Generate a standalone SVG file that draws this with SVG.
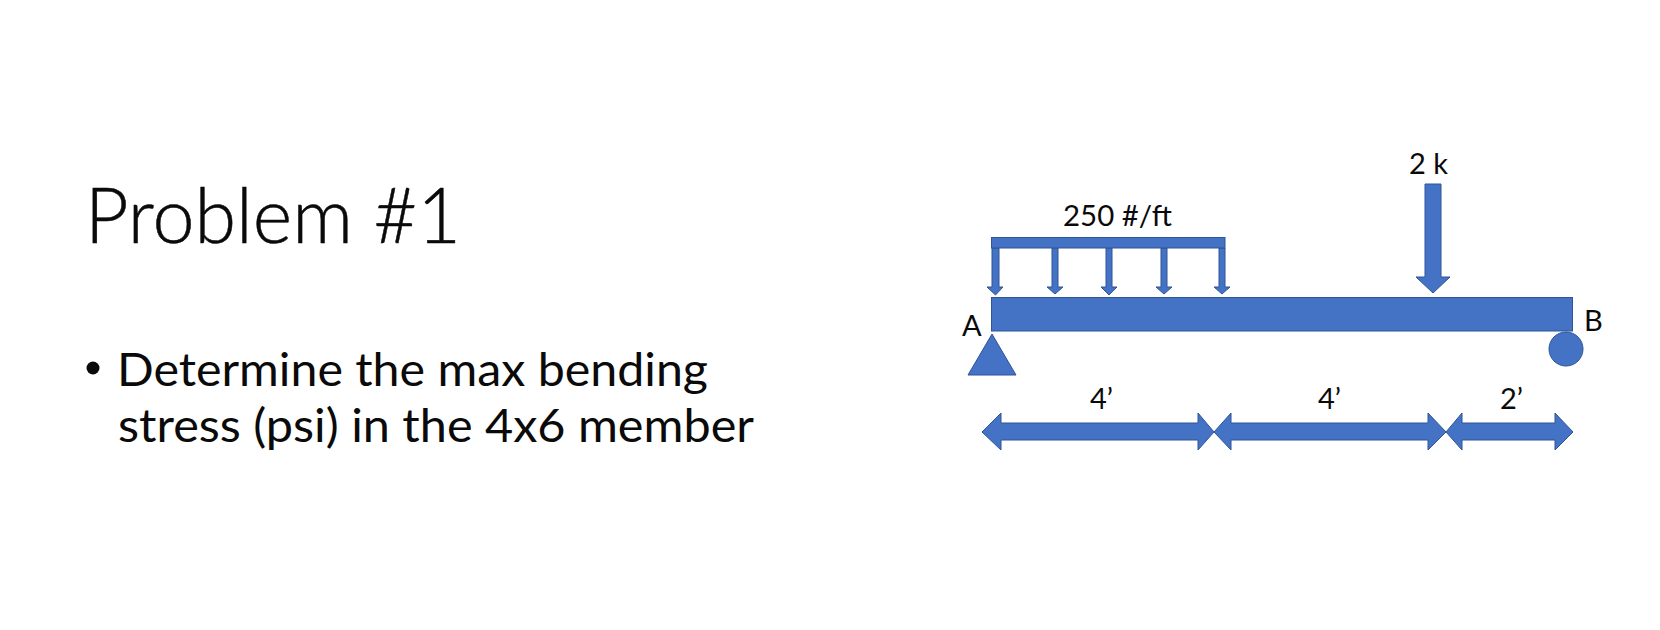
<svg xmlns="http://www.w3.org/2000/svg" width="1660" height="630" viewBox="0 0 1660 630">
<style>
text{font-family:"Lato","Open Sans","Liberation Sans",sans-serif;fill:#0a0a0a}
.t{font-size:76px;font-weight:300;stroke:#0a0a0a;stroke-width:.5}
.b{font-size:46px}
.l{font-size:29px}
.s{fill:#4472c4;stroke:#2f5597;stroke-width:1}
</style>
<rect width="1660" height="630" fill="#fff"/>
<g id="title"><text class="t" x="85" y="243" textLength="376" lengthAdjust="spacingAndGlyphs">Problem #1</text></g>
<g id="bullet">
<circle cx="93" cy="368" r="6.5" fill="#0a0a0a"/>
<text class="b" x="117" y="386" textLength="591" lengthAdjust="spacingAndGlyphs">Determine the max bending</text>
<text class="b" x="118" y="442" textLength="636" lengthAdjust="spacingAndGlyphs">stress (psi) in the 4x6 member</text>
</g>
<g id="connectors">
<path class="s" d="M1425 184H1441V277H1450L1433 293L1416 277H1425Z"/>
<path class="s" d="M992 248H999V287H1003L995.5 295L987 287H992Z"/>
<path class="s" d="M1052 248H1058V287H1063L1055 294L1047 287H1052Z"/>
<path class="s" d="M1106 248H1112V287H1117L1109 295L1101 287H1106Z"/>
<path class="s" d="M1161 248H1167V287H1172L1164 294L1156 287H1161Z"/>
<path class="s" d="M1219 248H1225V287H1230L1222 294L1214 287H1219Z"/>
<path class="s" d="M982 432L1001 413V423H1198V413L1214 432L1198 450V440H1001V450Z"/>
<path class="s" d="M1214 432L1231 413V423H1428V413L1446 432L1428 450V440H1231V450Z"/>
<path class="s" d="M1446 432L1462 413V423H1555V413L1573 432L1555 450V440H1462V450Z"/>
</g>
<g id="beam"><rect class="s" x="991.5" y="297.5" width="581" height="33.5"/></g>
<g id="load-bar"><rect class="s" x="991.5" y="237.5" width="233.5" height="10.5"/></g>
<g id="support-a"><path class="s" d="M992 334L1016 375H968Z"/></g>
<g id="support-b"><circle class="s" cx="1566" cy="349" r="17"/></g>
<g id="labels">
<text class="l" x="1063" y="226" textLength="109" lengthAdjust="spacingAndGlyphs">250 #/ft</text>
<text class="l" x="1409" y="174" textLength="39" lengthAdjust="spacingAndGlyphs">2 k</text>
<text class="l" x="962" y="336">A</text>
<text class="l" x="1584" y="331">B</text>
<text class="l" x="1090" y="409">4’</text>
<text class="l" x="1318" y="409">4’</text>
<text class="l" x="1500" y="409">2’</text>
</g>
</svg>
